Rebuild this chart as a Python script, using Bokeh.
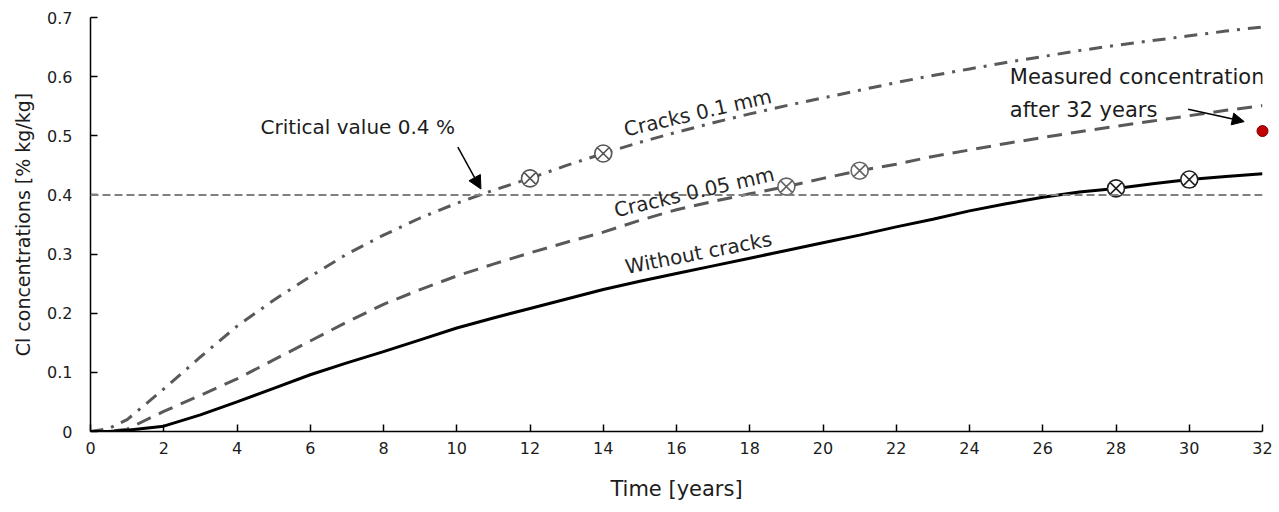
from bokeh.plotting import figure
from bokeh.models import Range1d, FixedTicker, Span, Label, Arrow, NormalHead
from bokeh.embed import file_html
from bokeh.resources import INLINE

# ---------------- data ----------------
years = [0, 0.5, 1, 2, 3, 4, 5, 6, 7, 8, 9, 10, 11, 12, 13, 14, 15, 16,
         17, 18, 19, 20, 21, 22, 23, 24, 25, 26, 27, 28, 29, 30, 31, 32]

without_cracks = [0, 0.0, 0.002, 0.009, 0.028, 0.050, 0.073, 0.096, 0.116, 0.135,
                  0.155, 0.175, 0.192, 0.208, 0.224, 0.240, 0.254, 0.267, 0.280,
                  0.293, 0.306, 0.319, 0.332, 0.346, 0.359, 0.373, 0.385, 0.396,
                  0.405, 0.411, 0.419, 0.426, 0.431, 0.436]

cracks_005 = [0, 0.0, 0.004, 0.034, 0.061, 0.089, 0.121, 0.153, 0.185, 0.215,
              0.240, 0.263, 0.283, 0.302, 0.320, 0.337, 0.357, 0.375, 0.389,
              0.402, 0.414, 0.428, 0.441, 0.452, 0.465, 0.476, 0.487, 0.497,
              0.507, 0.516, 0.525, 0.534, 0.543, 0.551]

cracks_01 = [0, 0.005, 0.020, 0.072, 0.126, 0.178, 0.222, 0.262, 0.300, 0.332,
             0.361, 0.386, 0.408, 0.428, 0.450, 0.470, 0.489, 0.506, 0.522,
             0.537, 0.551, 0.564, 0.577, 0.590, 0.602, 0.613, 0.624, 0.634,
             0.644, 0.653, 0.661, 0.669, 0.677, 0.684]

marker_x_01 = [12, 14]
marker_y_01 = [0.428, 0.470]
marker_x_005 = [19, 21]
marker_y_005 = [0.414, 0.441]
marker_x_0 = [28, 30]
marker_y_0 = [0.411, 0.426]

measured_x = [32]
measured_y = [0.508]

critical_value = 0.4

x_ticks = [0, 2, 4, 6, 8, 10, 12, 14, 16, 18, 20, 22, 24, 26, 28, 30, 32]
y_ticks = [0, 0.1, 0.2, 0.3, 0.4, 0.5, 0.6, 0.7]
y_tick_labels = ["0", "0.1", "0.2", "0.3", "0.4", "0.5", "0.6", "0.7"]

FONT = "DejaVu Sans"
TXT = "#1c1c1c"

p = figure(width=1279, height=512, output_backend="svg", toolbar_location=None,
           x_range=Range1d(0, 32), y_range=Range1d(0, 0.7),
           min_border_left=90, min_border_right=17, min_border_top=17,
           min_border_bottom=81)
p.outline_line_color = None
p.xgrid.visible = False
p.ygrid.visible = False
p.background_fill_color = "white"
p.border_fill_color = "white"

for ax in (p.xaxis, p.yaxis):
    ax.axis_line_color = "black"
    ax.axis_line_width = 1.5
    ax.major_tick_line_color = "black"
    ax.major_tick_line_width = 1.5
    ax.major_tick_in = 7
    ax.major_tick_out = 0
    ax.minor_tick_line_color = None
    ax.major_label_text_font = FONT
    ax.major_label_text_font_size = "16px"
    ax.major_label_text_color = TXT
    ax.axis_label_text_font = FONT
    ax.axis_label_text_font_style = "normal"
    ax.axis_label_text_color = TXT

p.xaxis.ticker = FixedTicker(ticks=x_ticks)
p.yaxis.ticker = FixedTicker(ticks=y_ticks)
p.yaxis.major_label_overrides = {t: l for t, l in zip(y_ticks, y_tick_labels)}
p.xaxis.axis_label = "Time [years]"
p.yaxis.axis_label = "Cl concentrations [% kg/kg]"
p.xaxis.axis_label_text_font_size = "21px"
p.yaxis.axis_label_text_font_size = "19px"
p.xaxis.major_label_standoff = 10
p.yaxis.major_label_standoff = 18
p.xaxis.axis_label_standoff = 20
p.yaxis.axis_label_standoff = 10

# critical line
p.add_layout(Span(location=critical_value, dimension="width", line_color="#808080",
                  line_width=2, line_dash="8 4"))

# curves
p.line(years, cracks_01, line_color="#595959", line_width=3, line_dash="13 8 3 8")
p.line(years, cracks_005, line_color="#595959", line_width=3, line_dash="15 9")
p.line(years, without_cracks, line_color="black", line_width=3)

# markers
p.scatter(marker_x_01, marker_y_01, marker="circle_x", size=17, fill_color="white",
          line_color="#555555", line_width=1.6)
p.scatter(marker_x_005, marker_y_005, marker="circle_x", size=17, fill_color="white",
          line_color="#666666", line_width=1.6)
p.scatter(marker_x_0, marker_y_0, marker="circle_x", size=17, fill_color="white",
          line_color="#222222", line_width=1.6)

# measured point
p.scatter(measured_x, measured_y, marker="circle", size=11, fill_color="#c00000",
          line_color="#7a0000", line_width=1, level="overlay")

# curve labels
p.add_layout(Label(x=16.58, y=0.539, text="Cracks 0.1 mm", angle=13, angle_units="deg",
                   text_align="center", text_baseline="middle", text_font=FONT,
                   text_font_size="20px", text_color="#262626"))
p.add_layout(Label(x=16.48, y=0.405, text="Cracks 0.05 mm", angle=13, angle_units="deg",
                   text_align="center", text_baseline="middle", text_font=FONT,
                   text_font_size="20px", text_color="#262626"))
p.add_layout(Label(x=16.6, y=0.302, text="Without cracks", angle=11, angle_units="deg",
                   text_align="center", text_baseline="middle", text_font=FONT,
                   text_font_size="20px", text_color="#262626"))

# annotations
p.add_layout(Label(x=4.64, y=0.515, text="Critical value 0.4 %", text_align="left",
                   text_baseline="middle", text_font=FONT, text_font_size="20px",
                   text_color=TXT))
p.add_layout(Label(x=25.1, y=0.599, text="Measured concentration", text_align="left",
                   text_baseline="middle", text_font=FONT, text_font_size="21px",
                   text_color=TXT, level="overlay"))
p.add_layout(Label(x=25.1, y=0.544, text="after 32 years", text_align="left",
                   text_baseline="middle", text_font=FONT, text_font_size="21px",
                   text_color=TXT, level="overlay"))

p.add_layout(Arrow(x_start=10.03, y_start=0.481, x_end=10.66, y_end=0.41,
                   line_color="black", line_width=1.5,
                   end=NormalHead(size=13, fill_color="black", line_color="black")))
p.add_layout(Arrow(x_start=29.97, y_start=0.545, x_end=31.5, y_end=0.524,
                   line_color="black", line_width=1.5,
                   end=NormalHead(size=12, fill_color="black", line_color="black")))

open("out.html", "w").write(file_html(p, INLINE))
